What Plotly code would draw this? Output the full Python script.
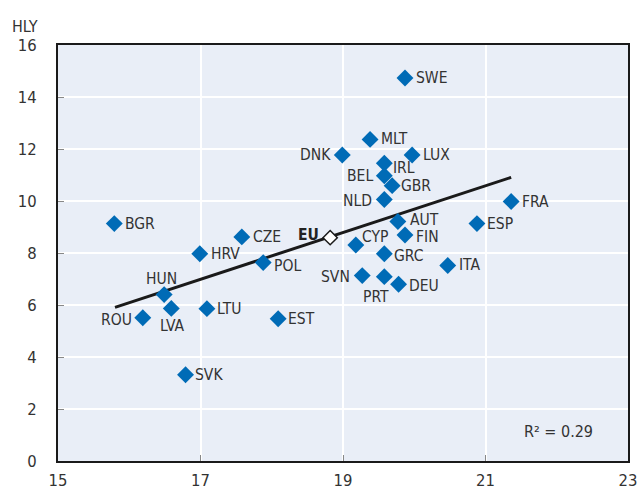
import plotly.graph_objects as go

countries = ["SWE","MLT","DNK","LUX","IRL","BEL","GBR","NLD","FRA","AUT","ESP","BGR","FIN","CZE",
             "CYP","HRV","GRC","POL","ITA","SVN","PRT","DEU","HUN","LVA","LTU","ROU","EST","SVK"]
life_exp = [19.87,19.38,18.99,19.97,19.58,19.58,19.69,19.58,21.36,19.77,20.88,15.79,19.87,17.58,
            19.18,16.99,19.58,17.88,20.47,19.27,19.58,19.78,16.49,16.59,17.09,16.19,18.09,16.79]
hly = [14.73,12.37,11.77,11.77,11.45,10.97,10.59,10.06,9.98,9.21,9.13,9.13,8.69,8.62,
       8.31,7.97,7.97,7.63,7.52,7.13,7.09,6.80,6.40,5.87,5.86,5.51,5.47,3.32]
eu_x = [18.82]
eu_y = [8.59]
trend_x = [15.80, 21.36]
trend_y = [5.91, 10.91]
r2_text = "R² = 0.29"

# label placement: (anchor, x shift px, y shift px; positive = up)
label_place = {
    "SWE": ("left", 9, 0), "MLT": ("left", 9, 0), "DNK": ("right", -9, 0), "LUX": ("left", 9, 0),
    "IRL": ("left", 7, -5), "BEL": ("right", -9, 0), "GBR": ("left", 7, 0), "NLD": ("right", -10, -2),
    "FRA": ("left", 9, 0), "AUT": ("left", 10, 2), "ESP": ("left", 8, 0), "BGR": ("left", 9, 0),
    "FIN": ("left", 9, -2), "CZE": ("left", 9, 0), "CYP": ("left", 4, 8), "HRV": ("left", 9, 0),
    "GRC": ("left", 8, -2), "POL": ("left", 9, -3), "ITA": ("left", 9, 0), "SVN": ("right", -10, -1),
    "PRT": ("center", -8, -20), "DEU": ("left", 8, -2), "HUN": ("center", -3, 16),
    "LVA": ("center", 1, -18), "LTU": ("left", 8, 0), "ROU": ("right", -9, -2), "EST": ("left", 8, 0),
    "SVK": ("left", 7, 0),
}

FONT = "DejaVu Sans Condensed, Liberation Sans Narrow, sans-serif"

fig = go.Figure()
fig.add_trace(go.Scatter(x=trend_x, y=trend_y, mode="lines",
                         line=dict(color="#1a1a1a", width=3), hoverinfo="skip", showlegend=False))
fig.add_trace(go.Scatter(x=life_exp, y=hly, mode="markers",
                         marker=dict(symbol="diamond", size=13, color="#006BB6",
                                     line=dict(width=0)),
                         showlegend=False))
fig.add_trace(go.Scatter(x=eu_x, y=eu_y, mode="markers",
                         marker=dict(symbol="diamond", size=11, color="white",
                                     line=dict(width=1.5, color="#1a1a1a")),
                         showlegend=False))

for name, xv, yv in zip(countries, life_exp, hly):
    anc, dx, dy = label_place[name]
    fig.add_annotation(x=xv, y=yv, text=name, showarrow=False, xanchor=anc, yanchor="middle",
                       xshift=dx, yshift=dy,
                       font=dict(family=FONT, size=15.5, color="#333333"))
fig.add_annotation(x=eu_x[0], y=eu_y[0], text="<b>EU</b>", showarrow=False, xanchor="right",
                   yanchor="middle", xshift=-9, yshift=3,
                   font=dict(family=FONT, size=15.5, color="#222222"))

fig.add_annotation(x=0.942, y=0.07, xref="paper", yref="paper", text=r2_text, showarrow=False,
                   xanchor="right", yanchor="middle",
                   font=dict(family=FONT, size=16, color="#333333"))
fig.add_annotation(x=-0.084, y=1.045, xref="paper", yref="paper", text="HLY", showarrow=False,
                   xanchor="left", yanchor="middle",
                   font=dict(family=FONT, size=16, color="#333333"))

fig.update_layout(
    width=637, height=492,
    margin=dict(l=58, r=9, t=45, b=31),
    plot_bgcolor="#E9EEF7", paper_bgcolor="white",
    font=dict(family=FONT, size=16, color="#333333"),
    hovermode=False,
    xaxis=dict(range=[15, 23], tickvals=[15, 17, 19, 21, 23], showgrid=True, gridcolor="white",
               gridwidth=2, zeroline=False, showline=True, linecolor="#1a1a1a", linewidth=2,
               mirror=True, ticks="inside", ticklen=6, tickcolor="#888888", tickwidth=1,
               ticklabelstandoff=3, automargin=False, ticklabeloverflow="allow",
               tickfont=dict(family=FONT, size=16.5, color="#333333")),
    yaxis=dict(range=[0, 16], tickvals=list(range(0, 17, 2)), showgrid=True, gridcolor="white",
               gridwidth=2, zeroline=False, showline=True, linecolor="#1a1a1a", linewidth=2,
               mirror=True, ticks="inside", ticklen=6, tickcolor="#888888", tickwidth=1,
               ticklabelstandoff=16, automargin=False,
               tickfont=dict(family=FONT, size=16.5, color="#333333")),
)
fig.write_html("out.html", config={"displayModeBar": False},
               post_script="document.body.style.margin='0';")
